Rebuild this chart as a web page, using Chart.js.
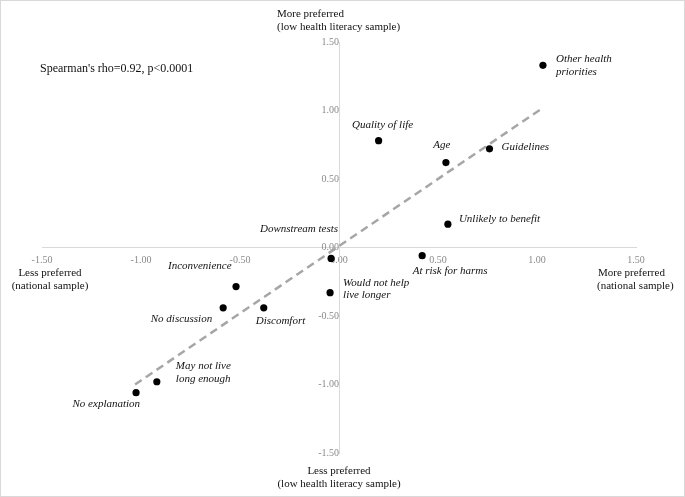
<!DOCTYPE html>
<html>
<head>
<meta charset="utf-8">
<script src="https://cdn.jsdelivr.net/npm/chart.js@4/dist/chart.umd.min.js"></script>
<style>
  html, body { margin: 0; padding: 0; background: #fff; }
  #wrap { width: 685px; height: 497px; position: relative; }
</style>
</head>
<body>
<div id="wrap"><canvas id="c" width="685" height="497"></canvas></div>
<script>
// ---- data ----
const reasons = [
  "Other health\npriorities", "Quality of life", "Age", "Guidelines", "Unlikely to benefit",
  "At risk for harms", "Downstream tests", "Would not help\nlive longer", "Inconvenience",
  "No discussion", "Discomfort", "May not live\nlong enough", "No explanation"
];
const nationalSample = [1.03, 0.20, 0.54, 0.76, 0.55, 0.42, -0.04, -0.045, -0.52, -0.585, -0.38, -0.92, -1.025];
const lowLiteracySample = [1.33, 0.78, 0.62, 0.72, 0.17, -0.06, -0.08, -0.33, -0.285, -0.44, -0.44, -0.98, -1.06];
const trendX = [-1.03, 1.03];
const trendY = [-1.00, 1.02];
const tickValues = [-1.5, -1.0, -0.5, 0, 0.5, 1.0, 1.5];
const statText = "Spearman's rho=0.92, p<0.0001";

// ---- label placement (style, not data) ----
const labelPlacement = [
  {align: 'left', dx: 13, dy: -6},
  {align: 'center', dx: 4, dy: -16},
  {align: 'center', dx: -4, dy: -17.5},
  {align: 'left', dx: 12, dy: -2},
  {align: 'left', dx: 11, dy: -5.5},
  {align: 'left', dx: -9.5, dy: 15.5},
  {align: 'right', dx: 7, dy: -29},
  {align: 'left', dx: 13, dy: -10},
  {align: 'right', dx: -4.5, dy: -20.5},
  {align: 'right', dx: -11, dy: 11.5},
  {align: 'left', dx: -8, dy: 13},
  {align: 'left', dx: 19, dy: -15.5},
  {align: 'right', dx: 4, dy: 11.5}
];

const SERIF = '"Liberation Serif", "Times New Roman", serif';

const scatterPoints = nationalSample.map((x, i) => ({x: x, y: lowLiteracySample[i]}));
const trendPoints = trendX.map((x, i) => ({x: x, y: trendY[i]}));

const annotations = {
  id: 'annotations',
  afterDatasetsDraw(chart) {
    const ctx = chart.ctx;
    const xs = chart.scales.x, ys = chart.scales.y;
    const meta = chart.getDatasetMeta(0);
    ctx.save();
    // point labels
    ctx.font = 'italic 11px ' + SERIF;
    ctx.fillStyle = '#111';
    ctx.textBaseline = 'middle';
    meta.data.forEach((pt, i) => {
      const p = labelPlacement[i];
      ctx.textAlign = p.align;
      const lines = reasons[i].split('\n');
      lines.forEach((ln, k) => {
        ctx.fillText(ln, pt.x + p.dx, pt.y + p.dy + k * 12.5);
      });
    });
    // axis titles
    ctx.font = '11px ' + SERIF;
    ctx.fillStyle = '#111';
    const cx = xs.getPixelForValue(0);
    const cy = ys.getPixelForValue(0);
    const top = chart.chartArea.top, bottom = chart.chartArea.bottom;
    const left = chart.chartArea.left, right = chart.chartArea.right;
    ctx.textAlign = 'left';
    ctx.fillText('More preferred', cx - 62, top - 28);
    ctx.fillText('(low health literacy sample)', cx - 62, top - 15);
    ctx.textAlign = 'center';
    ctx.fillText('Less preferred', cx, bottom + 18);
    ctx.fillText('(low health literacy sample)', cx, bottom + 31);
    ctx.fillText('Less preferred', left + 8, cy + 26);
    ctx.fillText('(national sample)', left + 8, cy + 39);
    ctx.textAlign = 'left';
    ctx.fillText('More preferred', right - 38, cy + 26);
    ctx.fillText('(national sample)', right - 39, cy + 39);
    // stat text
    ctx.font = '12px ' + SERIF;
    ctx.textAlign = 'left';
    ctx.fillText(statText, left - 2, top + 27);
    ctx.restore();
  },
  afterDraw(chart) {
    const ctx = chart.ctx;
    ctx.save();
    ctx.strokeStyle = '#d9d9d9';
    ctx.lineWidth = 1;
    ctx.strokeRect(0.5, 0.5, chart.width - 1, chart.height - 1);
    ctx.restore();
  }
};

const tickFmt = v => Number(v).toFixed(2);

new Chart(document.getElementById('c'), {
  type: 'scatter',
  data: {
    datasets: [
      {
        type: 'scatter',
        data: scatterPoints,
        backgroundColor: '#000',
        borderColor: '#000',
        pointRadius: 3.6,
        pointHoverRadius: 3.6,
        borderWidth: 0
      },
      {
        type: 'line',
        data: trendPoints,
        borderColor: '#a6a6a6',
        borderWidth: 2.5,
        borderDash: [8, 5],
        pointRadius: 0,
        fill: false,
        tension: 0
      }
    ]
  },
  options: {
    responsive: false,
    animation: false,
    devicePixelRatio: 1,
    layout: { padding: { left: 42, right: 49, top: 42, bottom: 44 } },
    plugins: {
      legend: { display: false },
      tooltip: { enabled: false },
      title: { display: false }
    },
    scales: {
      x: {
        type: 'linear',
        position: { y: 0 },
        min: -1.5, max: 1.5,
        afterBuildTicks: (s) => { s.ticks = tickValues.map(v => ({value: v})); },
        grid: { display: false, drawTicks: false },
        border: { display: true, color: '#d9d9d9', width: 1 },
        ticks: {
          callback: tickFmt,
          font: { family: SERIF, size: 10 },
          color: '#8a8a8a',
          padding: 7,
          maxRotation: 0,
          autoSkip: false
        }
      },
      y: {
        type: 'linear',
        position: { x: 0 },
        min: -1.5, max: 1.5,
        afterBuildTicks: (s) => { s.ticks = tickValues.map(v => ({value: v})); },
        grid: { display: false, drawTicks: false },
        border: { display: true, color: '#d9d9d9', width: 1 },
        ticks: {
          callback: tickFmt,
          font: { family: SERIF, size: 10 },
          color: '#8a8a8a',
          padding: 9,
          autoSkip: false
        }
      }
    }
  },
  plugins: [annotations]
});
</script>
</body>
</html>
